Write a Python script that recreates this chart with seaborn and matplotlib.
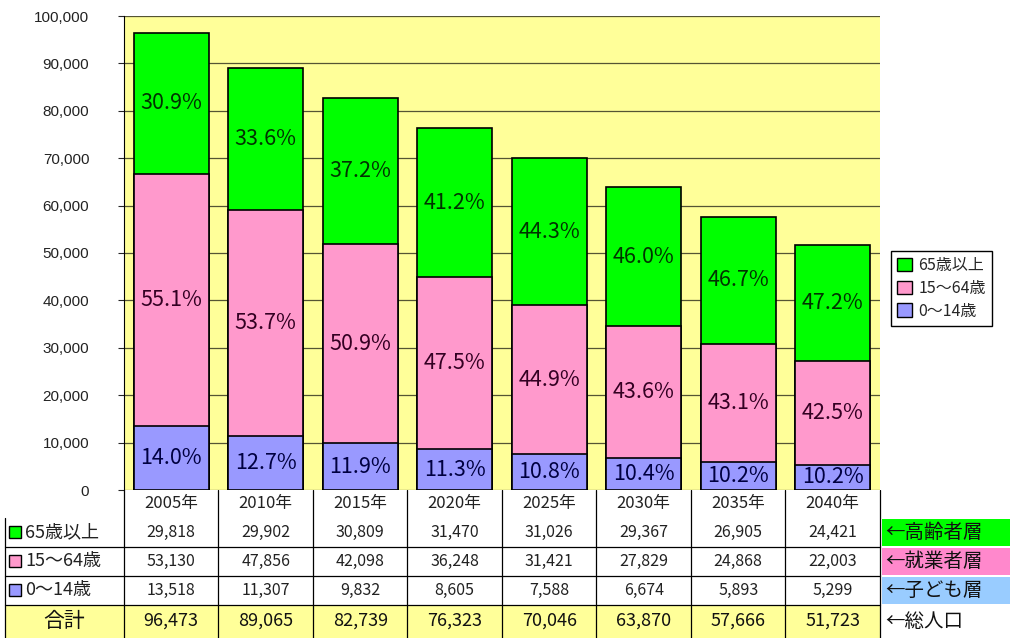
import numpy as np
import pandas as pd
import matplotlib
matplotlib.use("Agg")
import matplotlib.pyplot as plt
from matplotlib.patches import Patch, Rectangle
import seaborn as sns

years = ["2005年", "2010年", "2015年", "2020年", "2025年", "2030年", "2035年", "2040年"]
age65 = [29818, 29902, 30809, 31470, 31026, 29367, 26905, 24421]
age15_64 = [53130, 47856, 42098, 36248, 31421, 27829, 24868, 22003]
age0_14 = [13518, 11307, 9832, 8605, 7588, 6674, 5893, 5299]
totals = [96473, 89065, 82739, 76323, 70046, 63870, 57666, 51723]
pct65 = [30.9, 33.6, 37.2, 41.2, 44.3, 46.0, 46.7, 47.2]
pct15_64 = [55.1, 53.7, 50.9, 47.5, 44.9, 43.6, 43.1, 42.5]
pct0_14 = [14.0, 12.7, 11.9, 11.3, 10.8, 10.4, 10.2, 10.2]
row_labels = ["65歳以上", "15～64歳", "0～14歳"]
side_labels = ["←高齢者層", "←就業者層", "←子ども層", "←総人口"]

green, pink, blue = "#00FF00", "#FF99CC", "#9999FF"
bg = "#FFFF99"

sns.set_style("white")
plt.rcParams['font.family'] = ['Noto Sans CJK JP', 'DejaVu Sans']

df = pd.DataFrame({"year": years, "a65": age65, "a15": age15_64, "a0": age0_14})
df["top"] = df["a0"] + df["a15"] + df["a65"]
df["mid"] = df["a0"] + df["a15"]

W, H = 1015, 638
fig = plt.figure(figsize=(W / 100, H / 100), dpi=100)
x0, x1, ytop, ybot = 124, 880, 16, 490
ax = fig.add_axes([x0 / W, 1 - ybot / H, (x1 - x0) / W, (ybot - ytop) / H])
ax.set_facecolor(bg)

# stacked bars: draw cumulative heights on top of each other
for col, c in [("top", green), ("mid", pink), ("a0", blue)]:
    sns.barplot(data=df, x="year", y=col, color=c, width=0.79,
                edgecolor="black", linewidth=1.2, saturation=1, ax=ax, zorder=3)

ax.set_ylim(0, 100000)
ax.set_xlim(-0.5, len(years) - 0.5)
ax.set_yticks(np.arange(0, 100001, 10000))
ax.set_yticklabels([f"{v:,}" for v in range(0, 100001, 10000)], fontsize=11,
                   color="#222222", family="Liberation Sans")
ax.yaxis.grid(True, color="#555533", linewidth=0.9, zorder=0)
ax.set_axisbelow(True)
ax.tick_params(axis="y", length=4, left=True, pad=21)
ax.set_xticks([])
ax.set_xlabel("")
ax.set_ylabel("")
for s in ["top", "right"]:
    ax.spines[s].set_visible(False)
ax.spines["left"].set_color("black")
ax.spines["bottom"].set_visible(False)

for i in range(len(years)):
    ax.text(i, age0_14[i] / 2, f"{pct0_14[i]:.1f}%", ha="center", va="center",
            fontsize=15.5, color="#000040", zorder=5)
    ax.text(i, age0_14[i] + age15_64[i] / 2, f"{pct15_64[i]:.1f}%", ha="center",
            va="center", fontsize=15.5, color="#330022", zorder=5)
    ax.text(i, age0_14[i] + age15_64[i] + age65[i] / 2, f"{pct65[i]:.1f}%",
            ha="center", va="center", fontsize=15.5, color="#003300", zorder=5)

handles = [Patch(facecolor=green, edgecolor="black", label=row_labels[0]),
           Patch(facecolor=pink, edgecolor="black", label=row_labels[1]),
           Patch(facecolor=blue, edgecolor="black", label=row_labels[2])]
leg = fig.legend(handles=handles, loc="upper left", bbox_to_anchor=(883 / W, 1 - 243 / H),
                 frameon=True, fancybox=False, edgecolor="black", fontsize=11.5,
                 handlelength=0.9, handleheight=0.9, handletextpad=0.4,
                 borderpad=0.4, labelspacing=0.35, framealpha=1)

# data table below the chart
tb = fig.add_axes([0, 0, 1, (H - ybot) / H])
tb.set_xlim(0, W)
tb.set_ylim(H, ybot)
tb.axis("off")
slot = (x1 - x0) / len(years)
rows_y = [490, 518, 547, 576, 605, 638]
tb.add_patch(Rectangle((5, 605), x1 - 5, 33, facecolor="#FFFF99", edgecolor="none"))
for k in range(len(years) + 1):
    xx = x0 + k * slot
    tb.plot([xx, xx], [490, 638], color="black", linewidth=0.9)
tb.plot([5, 5], [518, 638], color="black", linewidth=0.9)
for yy in rows_y[2:5]:
    tb.plot([5, x1], [yy, yy], color="black", linewidth=0.9)

series = [age65, age15_64, age0_14]
sq_colors = [green, pink, blue]
for i, y in enumerate(years):
    cx = x0 + (i + 0.5) * slot
    tb.text(cx, 504, y, ha="center", va="center", fontsize=12, color="#222222")
    for r in range(3):
        tb.text(cx, (rows_y[r + 1] + rows_y[r + 2]) / 2, f"{series[r][i]:,}",
                ha="center", va="center", fontsize=11.5, color="#222222")
    tb.text(cx, 621, f"{totals[i]:,}", ha="center", va="center", fontsize=13,
            color="#111111")

for r in range(3):
    yc = (rows_y[r + 1] + rows_y[r + 2]) / 2
    tb.add_patch(Rectangle((9, yc - 6), 12, 12, facecolor=sq_colors[r], edgecolor="black", linewidth=1))
    tb.text(25, yc, row_labels[r], ha="left", va="center", fontsize=13, color="#222222")
tb.text(64, 621, "合計", ha="center", va="center", fontsize=15, color="#111111")

side_bg = [green, "#FF88CC", "#99CCFF", "white"]
for r in range(4):
    ya, yb = rows_y[r + 1], rows_y[r + 2]
    tb.add_patch(Rectangle((882, ya + 1), 128, yb - ya - 2, facecolor=side_bg[r], edgecolor="none"))
    tb.text(885, (ya + yb) / 2, side_labels[r], ha="left", va="center", fontsize=14, color="#111111")

fig.savefig("out.png", dpi=100, facecolor="white")
